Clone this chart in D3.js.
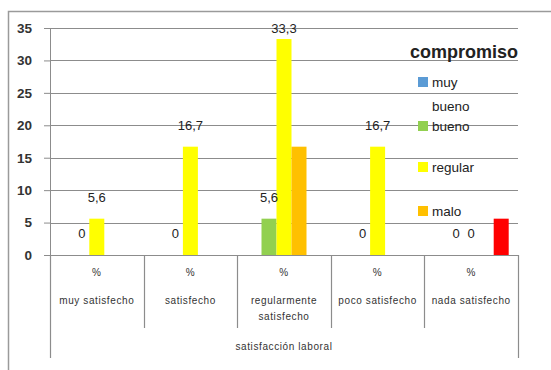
<!DOCTYPE html>
<html><head><meta charset="utf-8">
<script src="https://cdn.jsdelivr.net/npm/d3@7"></script>
<style>body{margin:0;background:#fff}svg{display:block}</style>
</head><body><svg id="c" width="551" height="370"></svg>
<script>
const categories = ["muy satisfecho","satisfecho","regularmente satisfecho","poco satisfecho","nada satisfecho"];
const categoryLines = [["muy satisfecho"],["satisfecho"],["regularmente","satisfecho"],["poco satisfecho"],["nada satisfecho"]];
const seriesNames = ["muy bueno","bueno","regular","malo","muy malo"];
const muyBueno = [0,0,0,0,0];
const bueno = [0,0,5.6,0,0];
const regular = [5.6,16.7,33.3,16.7,0];
const malo = [0,0,16.7,0,0];
const muyMalo = [0,0,0,0,5.6];
const yTicks = [0,5,10,15,20,25,30,35];
const legendNames = ["muy bueno","bueno","regular","malo"];
const colors = ["#5B9BD5","#92D050","#FFFF00","#FFC000","#FF0000"];
const labelled = [false,true,true,false,false];
const seriesValues = [muyBueno,bueno,regular,malo,muyMalo];

const svg = d3.select("#c");
const font = "'Liberation Sans', Arial, sans-serif";
svg.append("path").attr("d","M8.5,370 V11.5 H551").attr("fill","none").attr("stroke","#9a9a9a").attr("stroke-width",1.5);

const y = d3.scaleLinear().domain([0,35]).range([255,28]);
const x0 = d3.scaleBand().domain(categories).range([50,518]).paddingInner(0).paddingOuter(0);
const x1 = d3.scaleBand().domain(seriesNames).range([0,x0.bandwidth()]).paddingInner(0).paddingOuter(0.62);

svg.append("g").attr("transform","translate(50,0)").call(d3.axisLeft(y).tickValues(yTicks).tickSizeInner(6).tickSizeOuter(0).tickFormat(d=>d))
 .call(g=>{g.select(".domain").attr("stroke","#8c8c8c");
   g.selectAll(".tick line").attr("stroke","#8c8c8c");
   g.selectAll(".tick text").attr("x",-18).attr("font-family",font).attr("font-size",13.5).attr("fill","#333").style("font-weight","bold");});
svg.append("g").selectAll("line").data(yTicks.filter(d=>d>0)).join("line")
 .attr("x1",50).attr("x2",518).attr("y1",d=>Math.round(y(d))+0.5).attr("y2",d=>Math.round(y(d))+0.5)
 .attr("stroke","#8c8c8c").attr("stroke-width",1);

const gs = svg.append("g").selectAll("g").data(seriesNames).join("g").attr("fill",(d,i)=>colors[i]);
gs.selectAll("rect").data((s,i)=>categories.map((c,j)=>({c,s,v:seriesValues[i][j]}))).join("rect")
 .attr("x",d=>x0(d.c)+x1(d.s)).attr("width",x1.bandwidth())
 .attr("y",d=>y(d.v)).attr("height",d=>y(0)-y(d.v));

const fmt = v => String(v).replace(".",",");
seriesNames.forEach((s,i)=>{
  if(!labelled[i]) return;
  svg.append("g").selectAll("text").data(categories.map((c,j)=>({c,v:seriesValues[i][j]}))).join("text")
   .attr("x",d=>x0(d.c)+x1(s)+x1.bandwidth()/2)
   .attr("y",d=>Math.max(y(d.v)-22,28)+5)
   .attr("text-anchor","middle").attr("font-family",font).attr("font-size",13).attr("fill","#222")
   .text(d=>fmt(d.v));
});

svg.append("line").attr("x1",50).attr("x2",518).attr("y1",255.5).attr("y2",255.5).attr("stroke","#8c8c8c");
const bounds = categories.map(c=>x0(c)).concat([x0.range()[1]]);
svg.append("g").selectAll("line").data(bounds).join("line")
 .attr("x1",d=>Math.round(d)+0.5).attr("x2",d=>Math.round(d)+0.5).attr("y1",255)
 .attr("y2",(d,i)=> (i===0||i===bounds.length-1)?358:328).attr("stroke","#8c8c8c").attr("stroke-width",1.2);
const cl = svg.append("g").attr("font-family",font).attr("font-size",10).attr("fill","#333").attr("text-anchor","middle").style("letter-spacing","0.6px");
categories.forEach((c,j)=>{
  const cx = x0(c)+x0.bandwidth()/2;
  cl.append("text").attr("x",cx).attr("y",276).text("%");
  categoryLines[j].forEach((t,k)=>cl.append("text").attr("x",cx).attr("y",304+k*16).text(t));
});
cl.append("text").attr("x",284).attr("y",350).text("satisfacción laboral");

const lg = svg.append("g").attr("font-family",font);
lg.append("text").attr("x",518).attr("y",58).attr("text-anchor","end").attr("font-size",18).style("font-weight","bold").attr("fill","#222").text("compromiso");
const legY = [82,126,167,211];
legendNames.forEach((n,i)=>{
  lg.append("rect").attr("x",418).attr("y",legY[i]-5).attr("width",10).attr("height",10).attr("fill",colors[i]);
  const words = i===0?["muy","bueno"]:[n];
  words.forEach((w,k)=>lg.append("text").attr("x",432).attr("y",legY[i]+5+k*24).attr("font-size",13.5).attr("fill","#222").text(w));
});
</script></body></html>
